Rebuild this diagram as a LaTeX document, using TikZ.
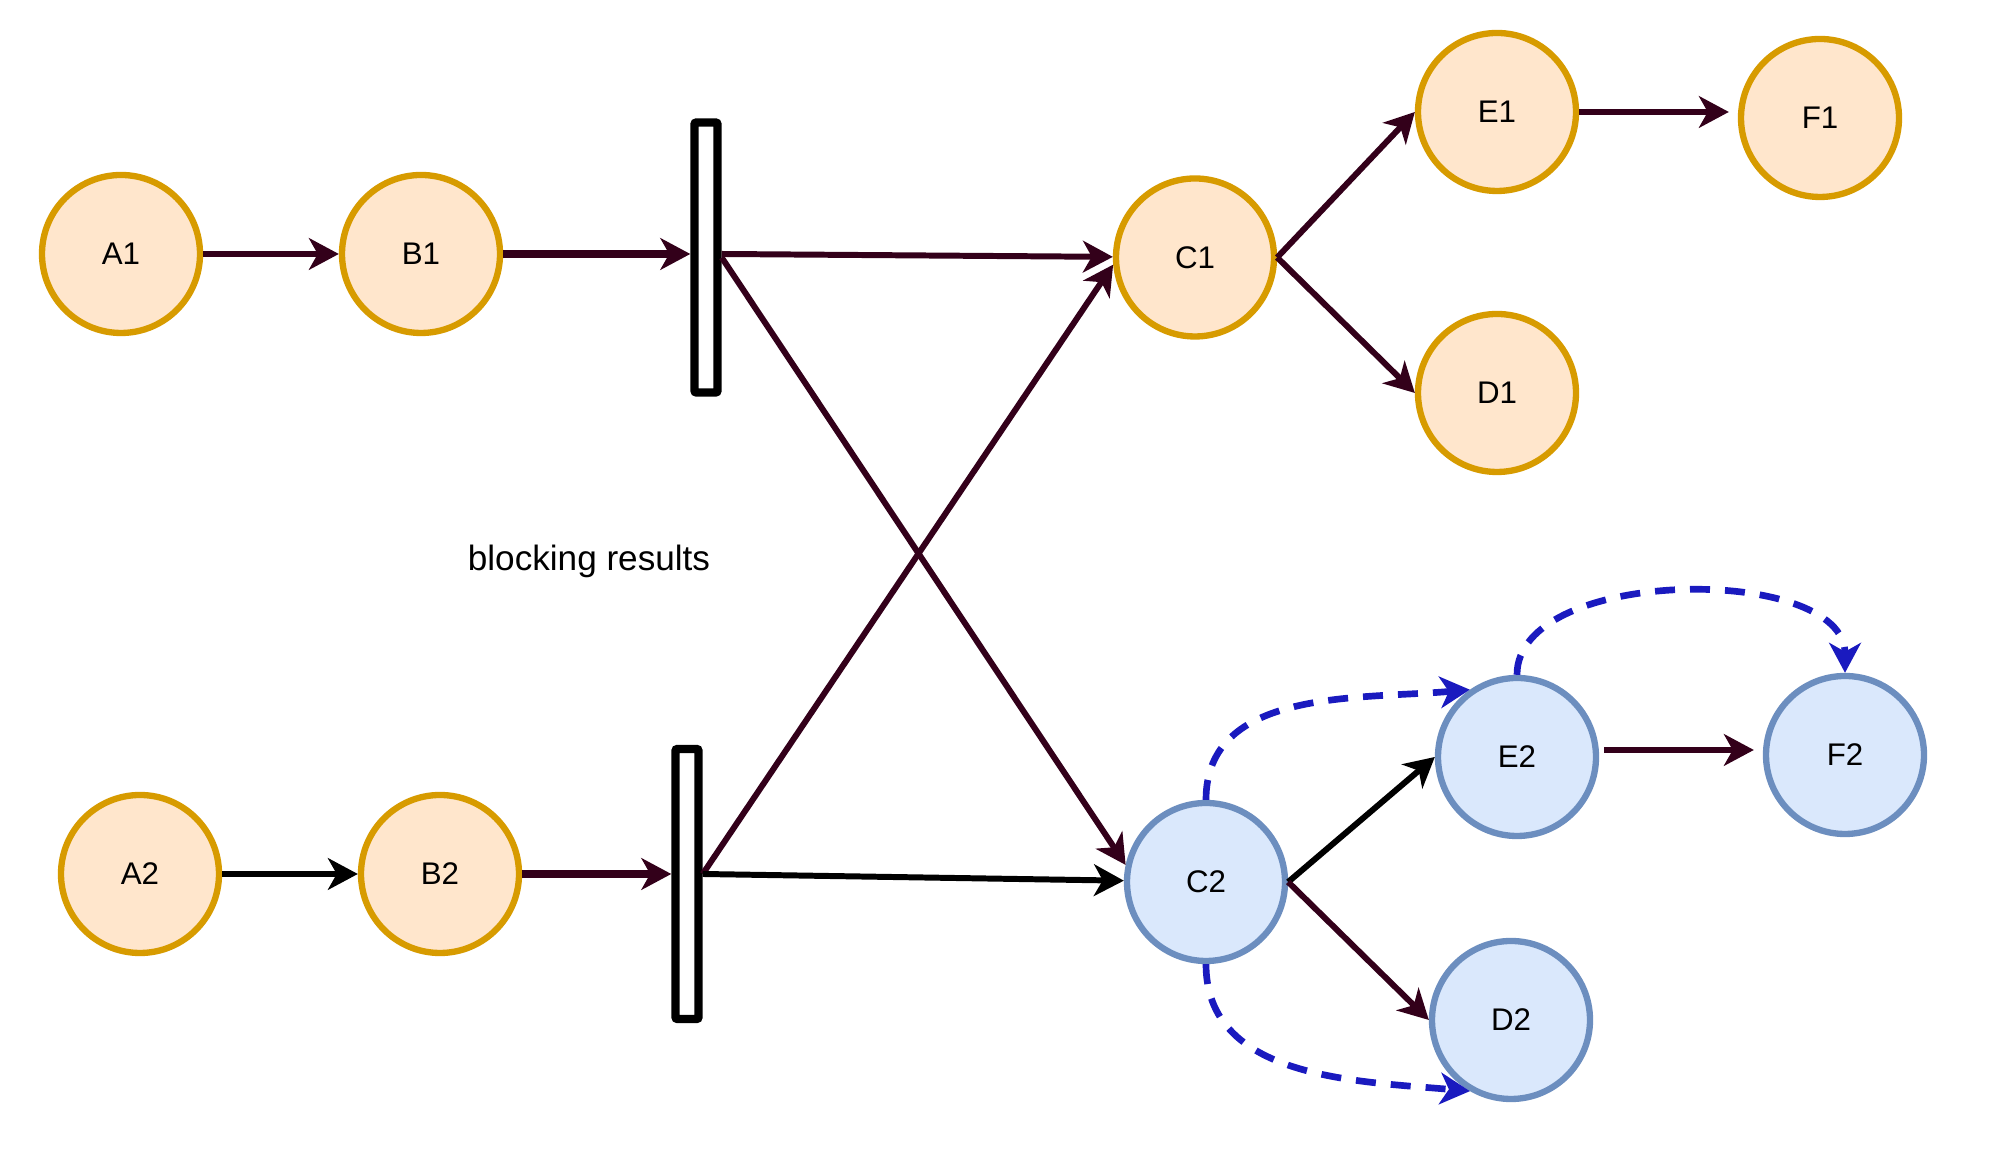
\documentclass[tikz,border=0pt]{standalone}
\usepackage{fontspec}
\setmainfont{Liberation Sans}
\usetikzlibrary{arrows.meta,calc}
\definecolor{peachfill}{HTML}{FFE6CC}
\definecolor{peachline}{HTML}{D79B00}
\definecolor{bluefill}{HTML}{DAE8FC}
\definecolor{blueline}{HTML}{6C8EBF}
\definecolor{wine}{HTML}{33001A}
\definecolor{dashblue}{HTML}{1A1ABF}

\begin{document}
\begin{tikzpicture}[>={Stealth[length=8.5pt,width=9pt,inset=2.5pt]},
    peach/.style={circle, draw=peachline, fill=peachfill, line width=1.8pt,
        minimum size=1.58cm, inner sep=0pt, font=\fontsize{8.9}{10}\selectfont},
    pale/.style={peach, draw=blueline, fill=bluefill},
    gate/.style={draw, line width=2.4pt, fill=white, minimum width=0.23cm,
        minimum height=2.70cm, inner sep=0pt, rounded corners=0.6pt},
    link/.style={->, line width=1.7pt, wine},
    heavy link/.style={link, line width=2.5pt},
    plain link/.style={->, line width=1.7pt, black},
    hint/.style={->, line width=1.9pt, dashblue, dash pattern=on 0.2cm off 0.15cm}]
    \useasboundingbox (0,0) rectangle (20,11.64);

    % Upper row
    \node [peach] (A1) at (1.21,9.10) {A1};
    \node [peach] (B1) at (4.21,9.10) {B1};
    \node [gate] (bar1) at (7.06,9.065) {};
    \node [peach] (C1) at (11.95,9.065) {C1};
    \node [peach] (E1) at (14.97,10.52) {E1};
    \node [peach] (D1) at (14.97,7.71) {D1};
    \node [peach] (F1) at (18.20,10.46) {F1};

    \node [font=\fontsize{10}{12}\selectfont] (note) at (5.89,6.03) {blocking results};

    % Lower row
    \node [peach] (A2) at (1.40,2.90) {A2};
    \node [peach] (B2) at (4.40,2.90) {B2};
    \node [gate] (bar2) at (6.87,2.80) {};
    \node [pale] (C2) at (12.06,2.82) {C2};
    \node [pale] (E2) at (15.17,4.07) {E2};
    \node [pale] (F2) at (18.45,4.09) {F2};
    \node [pale] (D2) at (15.11,1.44) {D2};

    % Upper edges
    \draw [link] (A1) -- (B1);
    \draw [heavy link] (B1) -- (B1 -| bar1.west);
    \draw [link] (B1 -| bar1.east) -- (C1);
    \draw [link] (bar1.east) -- (C2.168);
    \draw [link] (C1.east) -- (E1.west);
    \draw [link] (C1.east) -- (D1.west);
    \draw [link, shorten >=0.09cm] (E1.east) -- (E1.east -| F1.west);

    % Lower edges
    \draw [plain link] (A2) -- (B2);
    \draw [heavy link] (B2) -- (B2 -| bar2.west);
    \draw [link] (B2 -| bar2.east) -- (C1.185);
    \draw [plain link] (B2 -| bar2.east) -- (C2);
    \draw [plain link] (C2.east) -- (E2.west);
    \draw [link] (C2.east) -- (D2.west);
    \draw [link, shorten <=0.05cm, shorten >=0.09cm]
        ($(E2.east)+(0,0.07)$) -- ($(E2.east -| F2.west)+(0,0.07)$);

    % Dashed hints
    \draw [hint] (C2.north) to[out=90, in=185] (E2.125);
    \draw [hint] (E2.north) to[out=90, in=90, looseness=0.85] (F2.north);
    \draw [hint] (C2.south) to[out=-90, in=175] (D2.240);
\end{tikzpicture}
\end{document}
